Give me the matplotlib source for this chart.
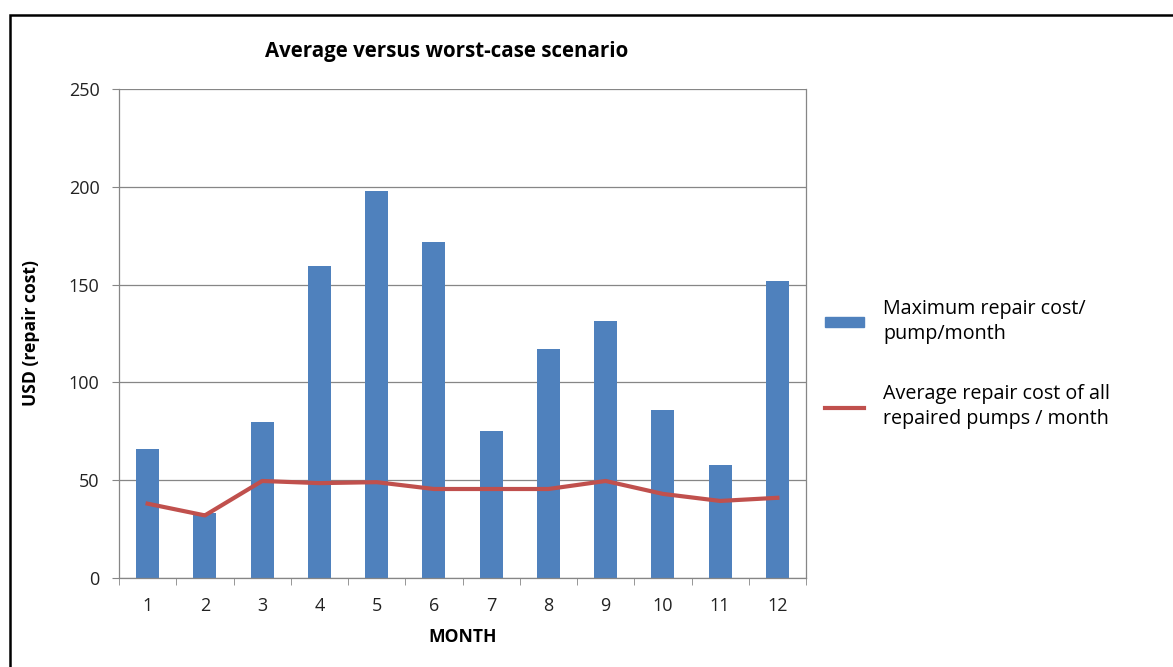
import matplotlib.pyplot as plt
from matplotlib.lines import Line2D
from matplotlib.patches import Patch, Rectangle

months = [1, 2, 3, 4, 5, 6, 7, 8, 9, 10, 11, 12]
max_cost = [66, 33, 80, 159.5, 198, 172, 75, 117, 131.5, 86, 58, 152]
avg_cost = [38, 32, 49.6, 48.5, 49, 45.5, 45.5, 45.5, 49.6, 43, 39.4, 41]

blue = '#4f81bd'
red = '#c0504d'
grey = '#868686'

plt.rcParams['font.family'] = ['Open Sans', 'DejaVu Sans']

fig = plt.figure(figsize=(11.73, 6.67), dpi=100)
ax = fig.add_axes([119 / 1173, 89 / 667, 687 / 1173, 489 / 667])

ax.bar(months, max_cost, width=0.4, color=blue, zorder=2)
ax.plot(months, avg_cost, color=red, lw=3, zorder=3)

ax.set_xlim(0.5, 12.5)
ax.set_ylim(0, 250)
ax.set_yticks(range(0, 251, 50))
ax.set_xticks(months)
ax.set_xticks([m + 0.5 for m in [0] + months], minor=True)
ax.tick_params(axis='x', which='major', length=0, pad=14, labelsize=13, labelcolor='#222222')
ax.tick_params(axis='x', which='minor', length=5, color=grey, direction='out')
ax.tick_params(axis='y', length=5, color=grey, pad=9, labelsize=13, labelcolor='#222222')
ax.grid(axis='y', color=grey, lw=0.9, zorder=0)
for s in ax.spines.values():
    s.set_color(grey)
    s.set_linewidth(0.9)
ax.spines['top'].set_visible(False)

ax.set_title('Average versus worst-case scenario', fontsize=14.8, fontweight='bold', pad=23, x=0.477)
ax.set_xlabel('MONTH', fontsize=12.6, fontweight='bold', labelpad=9)
ax.set_ylabel('USD (repair cost)', fontsize=12.6, fontweight='bold', labelpad=21)

handles = [
    Patch(color=blue, label='Maximum repair cost/\npump/month'),
    Line2D([0], [0], color=red, lw=3, label='Average repair cost of all\nrepaired pumps / month'),
]
leg = fig.legend(handles=handles, loc='center left', bbox_to_anchor=(807 / 1173, 1 - 364 / 667),
                 frameon=False, fontsize=14.2, handlelength=2.0, handleheight=0.45,
                 labelspacing=2.0, handletextpad=0.95)
for t in leg.get_texts():
    t.set_linespacing(1.35)

fig.add_artist(Rectangle((10 / 1173, -0.1), 1.2, 1 - 15 / 667 + 0.1, transform=fig.transFigure,
                         fill=False, ec='black', lw=1.8))

fig.savefig('out.png', dpi=100)
